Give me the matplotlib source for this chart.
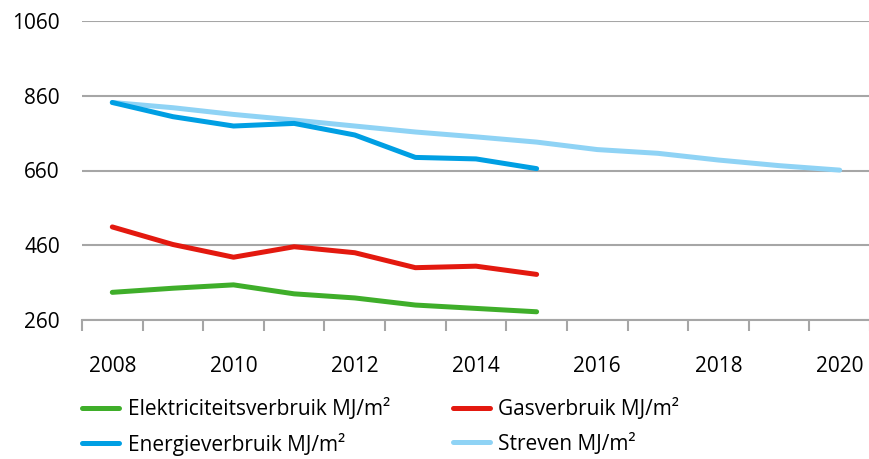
import numpy as np
import matplotlib.pyplot as plt

jaren = list(range(2008, 2021))
elektriciteit = [334, 345, 354, 330, 319, 300, 291, 282]
gas = [509, 462, 428, 456, 440, 400, 404, 382]
energie = [842, 804, 779, 786, 755, 695, 691, 665]
streven = [842, 828, 810, 795, 779, 763, 750, 736, 716, 706, 688, 673, 661]

namen = ["Elektriciteitsverbruik MJ/m²", "Gasverbruik MJ/m²",
         "Energieverbruik MJ/m²", "Streven MJ/m²"]
kleuren = ["#3fae2a", "#e3190f", "#009fe3", "#8fd3f5"]
yticks = [260, 460, 660, 860, 1060]

plt.rcParams["font.family"] = ["Open Sans", "DejaVu Sans"]

fig = plt.figure(figsize=(8.7, 4.59), dpi=100)
ax = fig.add_axes([82 / 870, 139 / 459, 1 - 82 / 870, (320 - 21) / 459])

x = np.arange(len(jaren))
lw = 3.6
l_el, = ax.plot(x[:len(elektriciteit)], elektriciteit, color=kleuren[0], lw=lw,
                solid_capstyle="round", label=namen[0], zorder=3)
l_gas, = ax.plot(x[:len(gas)], gas, color=kleuren[1], lw=lw,
                 solid_capstyle="round", label=namen[1], zorder=3)
l_en, = ax.plot(x[:len(energie)], energie, color=kleuren[2], lw=lw,
                solid_capstyle="round", label=namen[2], zorder=4)
l_st, = ax.plot(x[:len(streven)], streven, color=kleuren[3], lw=lw,
                solid_capstyle="round", label=namen[3], zorder=3)

ax.set_xlim(-0.5, len(jaren) - 0.5)
ax.set_ylim(260, 1060)
ax.set_yticks(yticks)
ax.set_yticklabels([str(v) for v in yticks], fontsize=15)
ax.yaxis.grid(True, color="#a6a6a6", lw=1.5)
ax.set_axisbelow(True)
ax.tick_params(axis="y", length=0, pad=16)

# tick marks between the years, labels every two years
ax.set_xticks(np.arange(-0.5, len(jaren), 1.0))
ax.set_xticklabels([])
ax.tick_params(axis="x", which="major", length=8, width=1.5, color="#a6a6a6")
ax.set_xticks(x[::2], minor=True)
ax.set_xticklabels([str(j) for j in jaren[::2]], minor=True, fontsize=15)
ax.tick_params(axis="x", which="minor", length=0, pad=26)

for s in ["left", "right", "top"]:
    ax.spines[s].set_visible(False)
ax.spines["bottom"].set_color("#a6a6a6")
ax.spines["bottom"].set_linewidth(1.5)

# legend fills per column, so order it to read row by row
fig.legend([l_el, l_en, l_gas, l_st], [namen[0], namen[2], namen[1], namen[3]],
           ncol=2, loc="upper left", bbox_to_anchor=(82 / 870, 1 - 398 / 459),
           frameon=False, fontsize=15, handlelength=1.8, handletextpad=0.4,
           columnspacing=3.0, labelspacing=0.6, borderpad=0, borderaxespad=0)

fig.savefig("out.png", dpi=100)
